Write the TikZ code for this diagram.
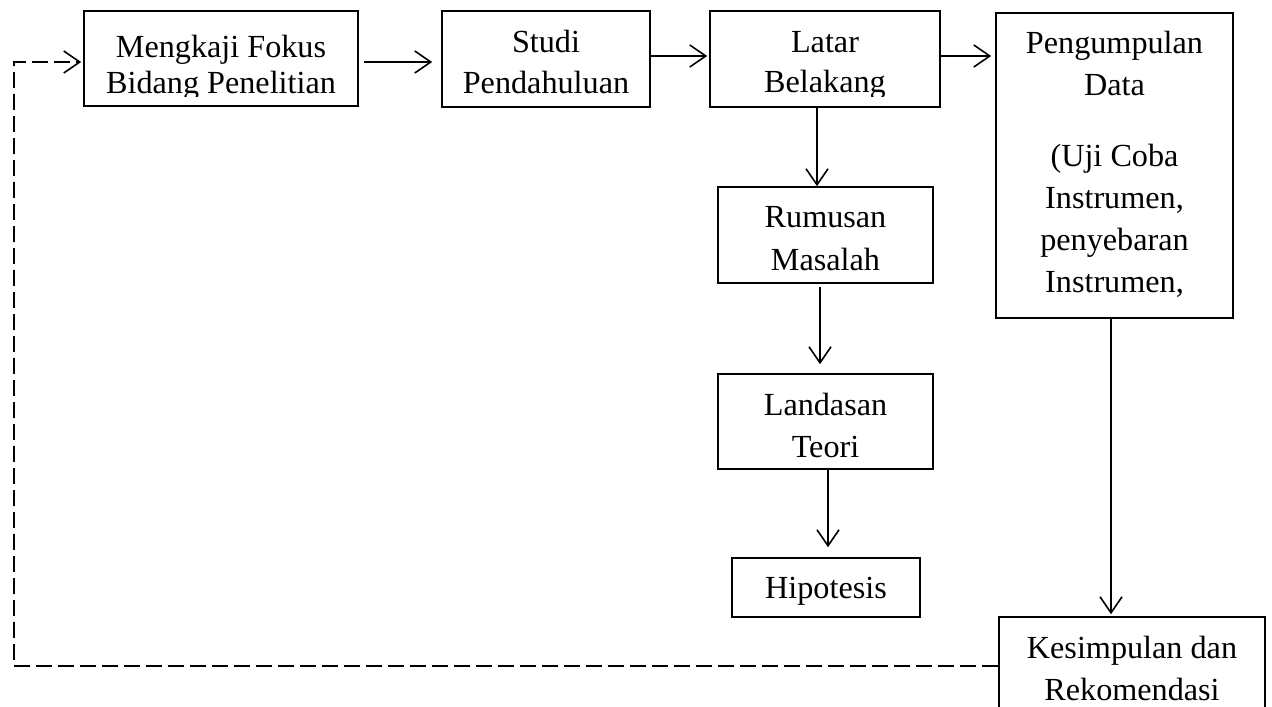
\documentclass[tikz,border=0pt]{standalone}
\usepackage{fontspec}
\setmainfont{Liberation Serif}
\usetikzlibrary{arrows.meta}
\begin{document}
\begin{tikzpicture}[x=0.5pt,y=-0.5pt,
  frame/.style={draw=black,line width=0.8pt,inner sep=0pt,fill=none},
  txt/.style={align=center,anchor=base,inner sep=0pt},
  arr/.style={line width=0.8pt,-{Straight Barb[length=8pt,width=11pt]}},
  dashline/.style={line width=0.8pt,dash pattern=on 8pt off 3pt,-{Straight Barb[length=8pt,width=11pt]}}]
\clip (0,0) rectangle (1272,706);
\fill[white] (0,0) rectangle (1272,706);
% frames
\node[frame,minimum width=137pt,minimum height=47.5pt] (b1) at (221,58.5) {};
\node[frame,minimum width=104pt,minimum height=48pt] (b2) at (546,59) {};
\node[frame,minimum width=115pt,minimum height=48pt] (b3) at (825,59) {};
\node[frame,minimum width=118.5pt,minimum height=152.5pt] (b4) at (1114.5,165.5) {};
\node[frame,minimum width=107.5pt,minimum height=48pt] (b5) at (825.5,235) {};
\node[frame,minimum width=107.5pt,minimum height=47.5pt] (b6) at (825.5,421.5) {};
\node[frame,minimum width=94pt,minimum height=29.5pt] (b7) at (826,587.5) {};
\node[frame,minimum width=133pt,minimum height=49pt] (b8) at (1132,666) {};
% texts (base anchor = baseline of the last line)
\begin{scope}
\clip (84,11) rectangle (358,97);
\node[txt,font=\fontsize{16.1}{17.5}\selectfont] (t1) at (221,93) {Mengkaji Fokus\\Bidang Penelitian};
\end{scope}
\node[txt,font=\fontsize{16.1}{20.5}\selectfont] (t2) at (546,93) {Studi\\Pendahuluan};
\begin{scope}
\clip (710,11) rectangle (940,97);
\node[txt,font=\fontsize{16.1}{20}\selectfont] (t3) at (825,92) {Latar\\Belakang};
\end{scope}
\node[txt,font=\fontsize{16.1}{21}\selectfont] (t4) at (1114.5,292) {Pengumpulan\\Data\\[14.5pt](Uji Coba\\Instrumen,\\penyebaran\\Instrumen,};
\node[txt,font=\fontsize{16.1}{21.5}\selectfont] (t5) at (825.5,270) {Rumusan\\Masalah};
\node[txt,font=\fontsize{16.1}{21}\selectfont] (t6) at (825.5,457) {Landasan\\Teori};
\node[txt,font=\fontsize{16.1}{21}\selectfont] (t7) at (826,598) {Hipotesis};
\node[txt,font=\fontsize{16.1}{21}\selectfont] (t8) at (1132,700) {Kesimpulan dan\\Rekomendasi};
% connectors
\coordinate (p12) at ([yshift=-1.75pt]b1.east);
\draw[arr,shorten <=2.5pt,shorten >=4.5pt] (p12) -- (p12 -| b2.west);
\coordinate (p23) at ([yshift=1.5pt]b2.east);
\draw[arr,shorten >=1pt] (p23) -- (p23 -| b3.west);
\coordinate (p34) at ([yshift=1.5pt]b3.east);
\draw[arr,shorten >=2pt] (p34) -- (p34 -| b4.west);
\coordinate (p35) at ([xshift=-4pt]b3.south);
\draw[arr] (p35) -- (p35 |- b5.north);
\coordinate (p56) at ([xshift=-2.75pt]b5.south);
\draw[arr,shorten <=1.5pt,shorten >=4.5pt] (p56) -- (p56 |- b6.north);
\coordinate (p67) at ([xshift=1.25pt]b6.south);
\draw[arr,shorten >=5pt] (p67) -- (p67 |- b7.north);
\coordinate (p48) at ([xshift=-1.75pt]b4.south);
\draw[arr,shorten >=1pt] (p48) -- (p48 |- b8.north);
\coordinate (back) at (14,62);
\coordinate (p81) at ([yshift=-1.75pt]b1.west);
\draw[dashline,shorten >=1pt] (b8.west) -| (back) -- (p81);
\end{tikzpicture}
\end{document}
